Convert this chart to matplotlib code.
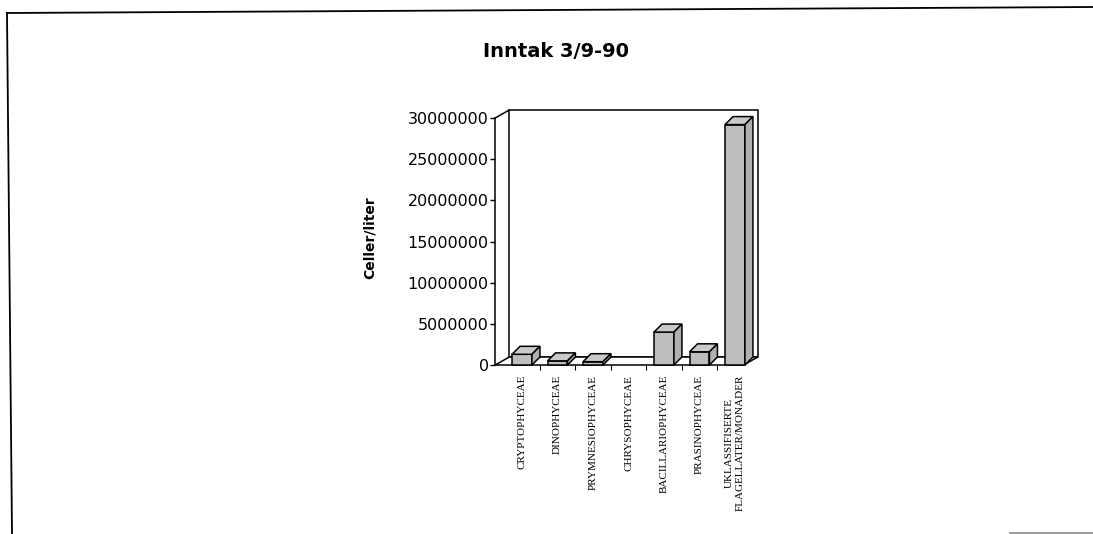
import numpy as np
import matplotlib.pyplot as plt
from matplotlib.patches import Polygon, Rectangle
from matplotlib.lines import Line2D

# phytoplankton groups and cell counts (cells per litre)
groups = ["CRYPTOPHYCEAE", "DINOPHYCEAE", "PRYMNESIOPHYCEAE", "CHRYSOPHYCEAE",
          "BACILLARIOPHYCEAE", "PRASINOPHYCEAE",
          "UKLASSIFISERTE\nFLAGELLATER/MONADER"]
cells = [1300000, 500000, 400000, 0, 4000000, 1600000, 29200000]
yticks = [0, 5000000, 10000000, 15000000, 20000000, 25000000, 30000000]

W, H = 1093, 534
fig = plt.figure(figsize=(W / 100, H / 100), dpi=100)
fig.patch.set_facecolor("white")

# axes frame = plane of the bar fronts
ax = fig.add_axes([504.25 / W, (H - 365) / H, 248.5 / W, 247 / H])
ax.set_xlim(-0.5, 6.5)
ax.set_ylim(0, 30000000)
ax.patch.set_visible(False)
for s in ["top", "right", "bottom"]:
    ax.spines[s].set_visible(False)
ax.spines["left"].set_position(("outward", 9 * 72 / 100))
ax.spines["left"].set_linewidth(1.1)

ax.set_yticks(yticks)
ax.set_yticklabels([str(v) for v in yticks])
ax.tick_params(axis="y", direction="out", length=3.6, width=1.0, pad=1,
               labelsize=11.5)
ax.set_xticks(range(len(groups)))
ax.set_xticklabels(groups, rotation=90, fontfamily="Liberation Serif",
                   fontsize=8, va="top", ha="center", multialignment="center")
ax.set_xticks(np.arange(0.5, len(groups) - 1, 1.0), minor=True)
ax.tick_params(axis="x", which="major", length=0, pad=7)
ax.tick_params(axis="x", which="minor", direction="out", length=3.5, width=0.8)

fig.canvas.draw()
inv = ax.transData.inverted()
o = inv.transform((0, 0))


def px(dx, dy):
    # pixel offset expressed in data units
    p = inv.transform((dx, dy)) - o
    return p[0], p[1]


fx, fy = px(-9, 0)   # front edge of the floor
bx, by = px(5, 8)    # back wall
x0, x1 = -0.5, 6.5
ytop = yticks[-1]
lk = dict(edgecolor="black", linewidth=1.1, clip_on=False)

# back wall
ax.add_patch(Polygon([(x0 + bx, by), (x1 + bx, by), (x1 + bx, ytop + by),
                      (x0 + bx, ytop + by)], closed=True, facecolor="white",
                     zorder=1, **lk))
# floor
ax.add_patch(Polygon([(x0 + fx, fy), (x1 + fx, fy), (x1 + bx, by),
                      (x0 + bx, by)], closed=True, facecolor="white",
                     zorder=2, **lk))
# left side wall top edge
ax.add_line(Line2D([x0 + fx, x0 + bx], [ytop + fy, ytop + by], color="black",
                   linewidth=1.1, clip_on=False, zorder=2))

# 3d bars
w = 0.56
ddx, ddy = px(8, 8)
for k, v in enumerate(cells):
    if v <= 0:
        continue
    l, r = k - w / 2, k + w / 2
    ax.add_patch(Rectangle((l, 0), w, v, facecolor="#bdbdbd", zorder=5, **lk))
    ax.add_patch(Polygon([(l, v), (r, v), (r + ddx, v + ddy), (l + ddx, v + ddy)],
                         closed=True, facecolor="#c9c9c9", zorder=5, **lk))
    ax.add_patch(Polygon([(r, 0), (r + ddx, ddy), (r + ddx, v + ddy), (r, v)],
                         closed=True, facecolor="#b0b0b0", zorder=5, **lk))

fig.text(556 / W, 1 - 56.7 / H, "Inntak 3/9-90", ha="center", va="baseline",
         fontsize=14, fontweight="bold")
fig.text(370 / W, 1 - 238 / H, "Celler/liter", ha="center", va="center",
         rotation=90, fontsize=10, fontweight="bold")

# page frame
fig.add_artist(Line2D([7 / W, 1.0], [1 - 13 / H, 1 - 7 / H], color="black",
                      linewidth=1.3, transform=fig.transFigure))
fig.add_artist(Line2D([7 / W, 12 / W], [1 - 13 / H, 0.0], color="black",
                      linewidth=1.3, transform=fig.transFigure))
fig.add_artist(Line2D([1010 / W, 1.0], [1 - 533 / H, 1 - 533 / H],
                      color="#888888", linewidth=1.2, transform=fig.transFigure))

fig.savefig("out.png", dpi=100)
